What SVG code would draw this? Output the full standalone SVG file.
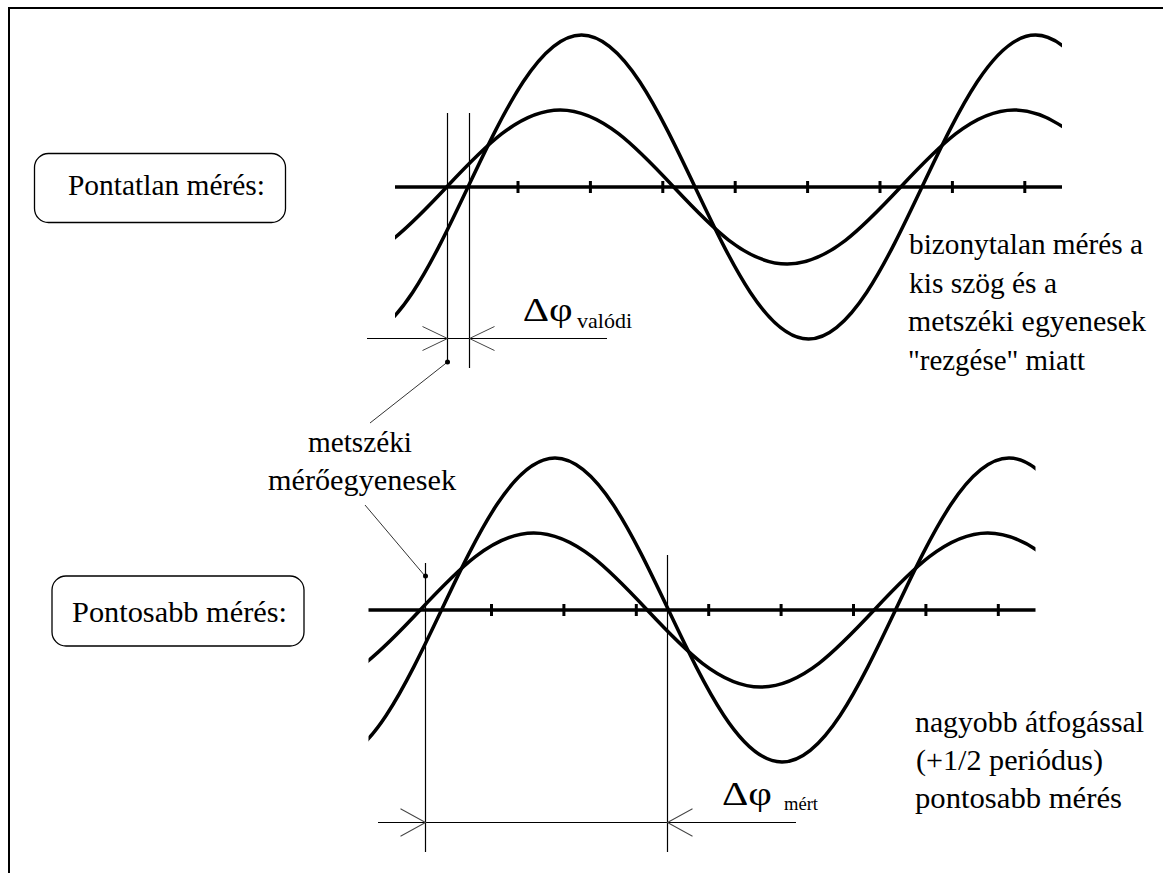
<svg xmlns="http://www.w3.org/2000/svg" xmlns:xlink="http://www.w3.org/1999/xlink" width="1163" height="873" viewBox="0 0 1163 873">
  <style>
    text { font-family: 'Liberation Serif', 'Times New Roman', serif; fill: #000; }
    .txt { font-size: 30px; }
    .sym { font-size: 33px; }
    .sub { font-size: 21px; }
    .box { fill: #fff; stroke: #000; stroke-width: 1.3; }
    .wave { fill: none; stroke: #000; stroke-width: 3.5; }
    .axis { fill: none; stroke: #000; stroke-width: 3.5; }
    .tick { stroke: #000; stroke-width: 3; }
    .thin { fill: none; stroke: #000; stroke-width: 1.2; }
    .arr { fill: none; stroke: #444; stroke-width: 1; }
    .lead { fill: none; stroke: #333; stroke-width: 1; }
    .frame { fill: none; stroke: #000; stroke-width: 2; }
  </style>
  <defs>
    <clipPath id="clipTop" clipPathUnits="userSpaceOnUse">
      <rect x="395" y="0" width="667" height="420"/>
    </clipPath>
    <g id="waves">
      <line class="axis" x1="395" y1="187" x2="1062" y2="187"/>
      <g class="tick">
        <line x1="518" y1="181" x2="518" y2="193"/>
        <line x1="590.4" y1="181" x2="590.4" y2="193"/>
        <line x1="662.8" y1="181" x2="662.8" y2="193"/>
        <line x1="735.2" y1="181" x2="735.2" y2="193"/>
        <line x1="807.6" y1="181" x2="807.6" y2="193"/>
        <line x1="880" y1="181" x2="880" y2="193"/>
        <line x1="952.4" y1="181" x2="952.4" y2="193"/>
        <line x1="1024.8" y1="181" x2="1024.8" y2="193"/>
      </g>
      <g clip-path="url(#clipTop)">
        <path class="wave" d="M 354.5,339 c 41.076,0 76.483,-74.13 113.5,-152 c 37.017,-77.87 72.424,-152 113.5,-152 c 41.076,0 76.483,74.13 113.5,152 c 37.017,77.87 72.424,152 113.5,152 c 41.076,0 76.483,-74.13 113.5,-152 c 37.017,-77.87 72.424,-152 113.5,-152 c 41.076,0 76.483,74.13 113.5,152"/>
        <path class="wave" d="M 333.2,264 c 41.076,0 76.483,-37.55 113.5,-77 c 37.017,-39.45 72.424,-77 113.5,-77 c 41.076,0 76.483,37.55 113.5,77 c 37.017,39.45 72.424,77 113.5,77 c 41.076,0 76.483,-37.55 113.5,-77 c 37.017,-39.45 72.424,-77 113.5,-77 c 41.076,0 76.483,37.55 113.5,77"/>
      </g>
    </g>
    <path id="arrowhead" class="arr" d="M -25,-12 L 0,0 L -25,12"/>
  </defs>

  <rect x="0" y="0" width="1163" height="873" fill="#fff"/>

  <g id="frame">
    <path class="frame" d="M 9,873 L 9,8 L 1163,8"/>
  </g>

  <g id="label-pontatlan">
    <rect class="box" x="34.5" y="153.5" width="251" height="69" rx="14" ry="14"/>
    <text class="txt" x="68" y="195" textLength="197" lengthAdjust="spacingAndGlyphs">Pontatlan mérés:</text>
  </g>

  <g id="label-pontosabb">
    <rect class="box" x="52" y="576" width="252" height="70" rx="14" ry="14"/>
    <text class="txt" x="72" y="622" textLength="215" lengthAdjust="spacingAndGlyphs">Pontosabb mérés:</text>
  </g>

  <g id="panel-top">
    <use xlink:href="#waves" href="#waves"/>
  </g>

  <g id="panel-bottom" transform="translate(-26.5,423)">
    <use xlink:href="#waves" href="#waves"/>
  </g>

  <g id="note-top">
    <text class="txt" x="909" y="254" textLength="234" lengthAdjust="spacingAndGlyphs">bizonytalan mérés a</text>
    <text class="txt" x="909" y="292.5" textLength="148" lengthAdjust="spacingAndGlyphs">kis szög és a</text>
    <text class="txt" x="908" y="331" textLength="238" lengthAdjust="spacingAndGlyphs">metszéki egyenesek</text>
    <text class="txt" x="908" y="369.5" textLength="177" lengthAdjust="spacingAndGlyphs">"rezgése" miatt</text>
  </g>

  <g id="note-bottom">
    <text class="txt" x="915" y="732" textLength="229" lengthAdjust="spacingAndGlyphs">nagyobb átfogással</text>
    <text class="txt" x="916" y="770" textLength="187" lengthAdjust="spacingAndGlyphs">(+1/2 periódus)</text>
    <text class="txt" x="915" y="808" textLength="207" lengthAdjust="spacingAndGlyphs">pontosabb mérés</text>
  </g>

  <g id="label-metszeki">
    <text class="txt" x="308" y="452" textLength="104" lengthAdjust="spacingAndGlyphs">metszéki</text>
    <text class="txt" x="268" y="489.5" textLength="188" lengthAdjust="spacingAndGlyphs">mérőegyenesek</text>
  </g>

  <g id="label-dphi-valodi">
    <text class="sym" x="522.7" y="321" textLength="50" lengthAdjust="spacingAndGlyphs">Δφ</text>
    <text class="sub" x="577" y="328" textLength="55" lengthAdjust="spacingAndGlyphs">valódi</text>
  </g>

  <g id="label-dphi-mert">
    <text class="sym" x="722" y="805" textLength="50" lengthAdjust="spacingAndGlyphs">Δφ</text>
    <text class="sub" x="784" y="810" textLength="34" lengthAdjust="spacingAndGlyphs" style="font-size:18px">mért</text>
  </g>

  <g id="connectors">
    <line class="thin" x1="447.5" y1="113" x2="447.5" y2="362"/>
    <line class="thin" x1="469.5" y1="113" x2="469.5" y2="368"/>
    <line class="thin" x1="367" y1="338.5" x2="607" y2="338.5"/>
    <use xlink:href="#arrowhead" href="#arrowhead" transform="translate(447.5,338.5)"/>
    <use xlink:href="#arrowhead" href="#arrowhead" transform="translate(469.5,338.5) scale(-1,1)"/>
    <line class="thin" x1="425.5" y1="563" x2="425.5" y2="852"/>
    <line class="thin" x1="667.5" y1="555" x2="667.5" y2="852"/>
    <line class="thin" x1="378" y1="822.5" x2="796" y2="822.5"/>
    <use xlink:href="#arrowhead" href="#arrowhead" transform="translate(425.5,822.5) scale(1,1.15)"/>
    <use xlink:href="#arrowhead" href="#arrowhead" transform="translate(667.5,822.5) scale(-1,1.15)"/>
    <line class="lead" x1="370" y1="423" x2="447.5" y2="362"/>
    <circle cx="447.5" cy="362" r="2.5" fill="#000"/>
    <line class="lead" x1="365" y1="505" x2="425" y2="576"/>
    <circle cx="425.5" cy="576" r="2.5" fill="#000"/>
  </g>
</svg>
